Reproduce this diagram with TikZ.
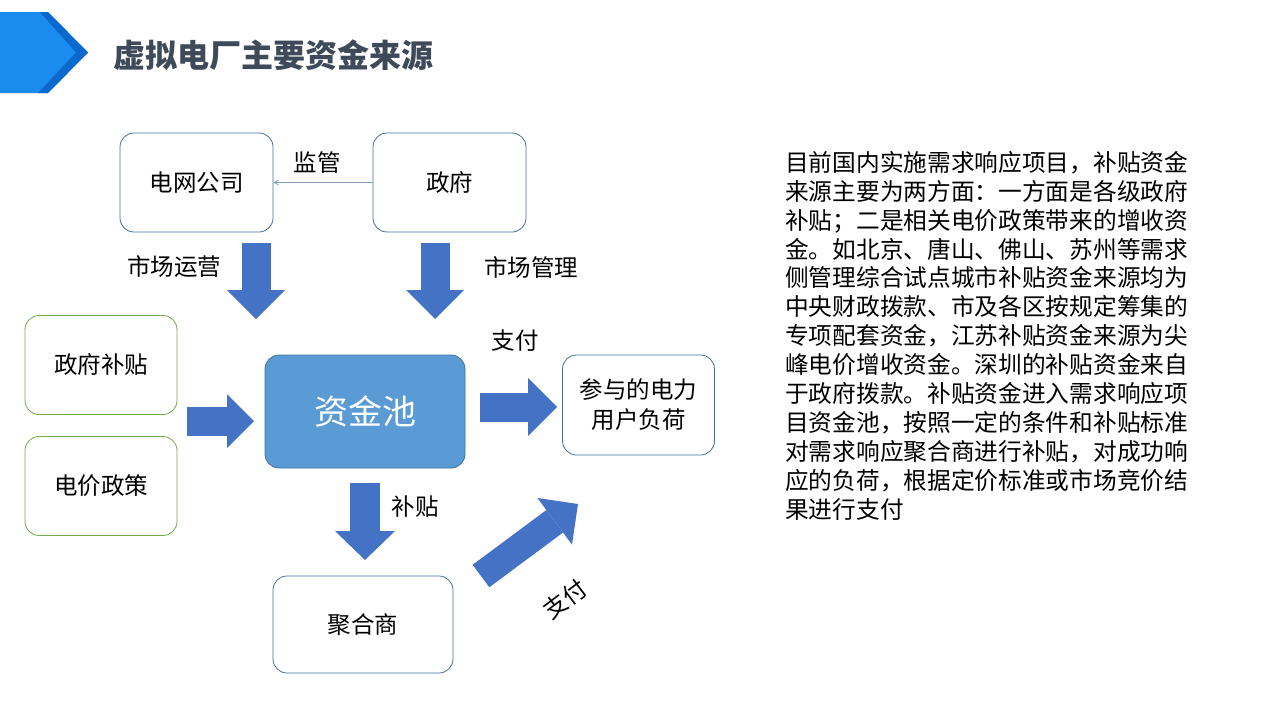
\documentclass[tikz,border=0pt]{standalone}
\usepackage{fontspec}
\setmainfont{Noto Sans CJK SC}
\usetikzlibrary{arrows,arrows.meta}

\definecolor{boxline}{HTML}{41719C}
\definecolor{greenline}{HTML}{70AD47}
\definecolor{poolfill}{HTML}{5B9BD5}
\definecolor{arrowblue}{HTML}{4472C4}
\definecolor{thinline}{HTML}{7E9BC0}
\definecolor{titlegray}{HTML}{3E4A5A}
\definecolor{headlight}{HTML}{1A8CF0}
\definecolor{headdark}{HTML}{0B68CC}

\tikzset{
  bluebox/.style={draw=boxline, line width=0.8pt, rounded corners=14pt, align=center,
    minimum width=153pt, minimum height=99pt, font=\fontsize{23.5}{30}\selectfont},
  greenbox/.style={bluebox, draw=greenline},
  lbl/.style={font=\fontsize{23.5}{28}\selectfont},
  flow/.style={line width=29pt, arrowblue, -{Triangle[length=29pt,width=58pt,line width=0pt]}}
}

\begin{document}
\begin{tikzpicture}[x=1pt,y=-1pt]
\useasboundingbox (0,0) rectangle (1280,720);

%header
\fill [headlight] (0,12)--(48,12)--(88,52.5)--(48,93)--(0,93)--cycle;
\fill [headdark] (40,12)--(48,12)--(88,52.5)--(48,93)--(38,93)--(76,52.5)--cycle;
\node [anchor=west, text=titlegray, font=\fontsize{32}{36}\selectfont\bfseries] (title) at (110,55) {虚拟电厂主要资金来源};

%boxes
\node [bluebox] (grid) at (196.5,182.5) {电网公司};
\node [bluebox] (gov) at (449.5,182.5) {政府};
\node [greenbox, minimum width=152pt] (subsidy) at (101,365) {政府补贴};
\node [greenbox, minimum width=152pt] (tariff) at (101,486) {电价政策};
\node [bluebox, fill=poolfill, text=white, minimum width=200pt, minimum height=113pt,
  font=\fontsize{34}{40}\selectfont] (pool) at (365,411.5) {资金池};
\node [bluebox, minimum width=152pt, minimum height=100pt] (users) at (638.5,405) {参与的电力\\用户负荷};
\node [bluebox, minimum width=180pt, minimum height=97pt] (agg) at (363,624.5) {聚合商};

%labels
\node [lbl] (supervise) at (317,163) {监管};
\node [lbl] (operate) at (174,267) {市场运营};
\node [lbl] (manage) at (531,267) {市场管理};
\node [lbl] (payA) at (515,341) {支付};
\node [lbl] (subs) at (415,507) {补贴};
\node [lbl, rotate=37, inner sep=1pt] (payB) at (565,599) {支付};

\draw [thinline, line width=0.8pt, arrows={-angle 60}] (gov.west) -- (grid.east);

%block arrows
\coordinate (opS) at (256,243);  \coordinate (opE) at (256,319);
\coordinate (mgS) at (435,243);  \coordinate (mgE) at (435,319);
\coordinate (inS) at (187,421);  \coordinate (inE) at (254,421);
\coordinate (outS) at (480,407); \coordinate (outE) at (557,407);
\coordinate (dnS) at (365,483);  \coordinate (dnE) at (365,560);
\coordinate (upS) at (481,576);  \coordinate (upE) at (578,504);

\draw [flow] (opS) -- (opE);
\draw [flow] (mgS) -- (mgE);
\draw [flow, -{Triangle[length=27pt,width=54pt,line width=0pt]}] (inS) -- (inE);
\draw [flow] (outS) -- (outE);
\draw [flow, line width=30pt, -{Triangle[length=29pt,width=60pt,line width=0pt]}] (dnS) -- (dnE);
\draw [flow, line width=28pt] (upS) -- (upE);

%text
\node [anchor=north west, inner sep=0pt, align=left, font=\fontsize{23.7}{28.9}\selectfont] (note) at (785,151)
{目前国内实施需求响应项目，补贴资金\\
来源主要为两方面：一方面是各级政府\\
补贴；二是相关电价政策带来的增收资\\
金。如北京、唐山、佛山、苏州等需求\\
侧管理综合试点城市补贴资金来源均为\\
中央财政拨款、市及各区按规定筹集的\\
专项配套资金，江苏补贴资金来源为尖\\
峰电价增收资金。深圳的补贴资金来自\\
于政府拨款。补贴资金进入需求响应项\\
目资金池，按照一定的条件和补贴标准\\
对需求响应聚合商进行补贴，对成功响\\
应的负荷，根据定价标准或市场竞价结\\
果进行支付};

\end{tikzpicture}
\end{document}
